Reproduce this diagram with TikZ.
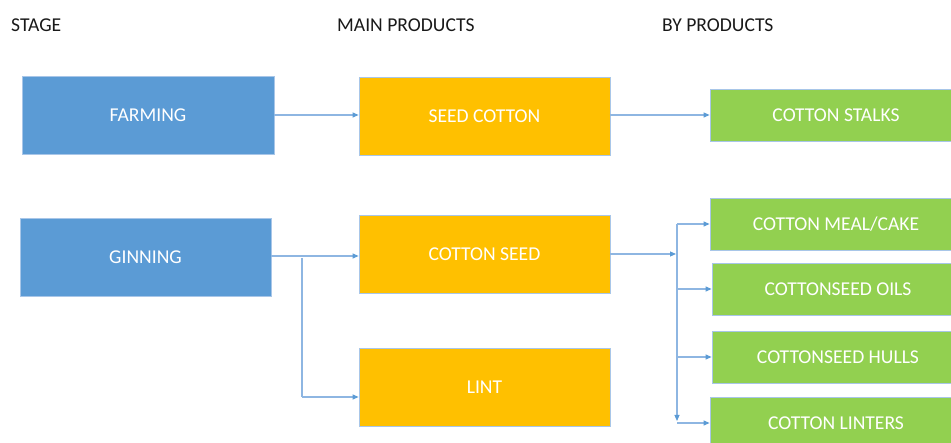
\documentclass[tikz,border=0pt]{standalone}
\usepackage{fontspec}
\setmainfont{Carlito}
\usetikzlibrary{arrows.meta}
\definecolor{stageblue}{HTML}{5B9BD5}
\definecolor{mainorange}{HTML}{FFC000}
\definecolor{bygreen}{HTML}{92D050}
\definecolor{edgeblue}{HTML}{A8C6E8}
\definecolor{linkblue}{HTML}{8EB6E2}
\definecolor{tipblue}{HTML}{5B9BD5}
\tikzset{
  box/.style={draw=edgeblue, line width=0.8pt, text=white, font=\fontsize{19.6}{22}\selectfont,
    inner sep=0pt, anchor=center},
  stagebox/.style={box, fill=stageblue, minimum width=252pt, minimum height=78pt},
  mainbox/.style={box, fill=mainorange, minimum width=251pt, minimum height=78pt},
  bybox/.style={box, fill=bygreen, minimum width=252pt, minimum height=52pt},
  header/.style={font=\fontsize{19.6}{22}\selectfont, text=black!90, anchor=west, inner sep=0pt},
  link/.style={draw=linkblue, line width=1.1pt},
  arrowlink/.style={link, -{Triangle[length=6pt,width=5pt,fill=tipblue,color=tipblue]}},
}
\begin{document}
\begin{tikzpicture}[x=1pt,y=-1pt]
\useasboundingbox (0,0) rectangle (951,443);
\clip (0,0) rectangle (951,443);

% column headings
\node[header] (hstage) at (11,25) {STAGE};
\node[header] (hmain) at (337,25) {MAIN PRODUCTS};
\node[header] (hby) at (662,25) {BY PRODUCTS};

% stages
\node[stagebox] (farming) at (148,115) {FARMING};
\node[stagebox, minimum width=251pt] (ginning) at (145.5,257) {GINNING};

% main products
\node[mainbox] (seedcotton) at (484.5,116) {SEED COTTON};
\node[mainbox] (cottonseed) at (484.5,254) {COTTON SEED};
\node[mainbox] (lint) at (484.5,387) {LINT};

% by products
\node[bybox] (stalks) at (836,115) {COTTON STALKS};
\node[bybox] (meal) at (836,224) {COTTON MEAL/CAKE};
\node[bybox] (oils) at (838,289) {COTTONSEED OILS};
\node[bybox] (hulls) at (838,357) {COTTONSEED HULLS};
\node[bybox] (linters) at (836,423) {COTTON LINTERS};

% farming and seed cotton
\draw[arrowlink] (farming.east) -- (farming.east -| seedcotton.west);
\draw[arrowlink] (seedcotton.west |- farming.east) ++(251,0) coordinate (scout) -- (scout -| stalks.west);

% ginning splits into cotton seed and lint
\coordinate (gout) at ([yshift=1pt]ginning.east);
\coordinate (gsplit) at (302,258);
\coordinate (lintin) at (302,397);
\draw[arrowlink] (gout) -- (gout -| cottonseed.west);
\draw[link] (gsplit) -- (lintin);
\draw[arrowlink] (lintin) -- (lintin -| lint.west);

% cotton seed feeds the by-product trunk
\coordinate (hub) at (676,254);
\coordinate (trunktop) at (677,224);
\coordinate (trunkbot) at (677,421);
\draw[arrowlink] (cottonseed.east) -- (hub);
\draw[arrowlink] (trunktop) -- (trunkbot);
\draw[arrowlink] (trunktop) -- (meal.west);
\draw[arrowlink] (trunktop |- oils.west) -- (oils.west);
\draw[arrowlink] (trunktop |- hulls.west) -- (hulls.west);
\draw[arrowlink] (trunktop |- linters.west) -- (linters.west);
\end{tikzpicture}
\end{document}
